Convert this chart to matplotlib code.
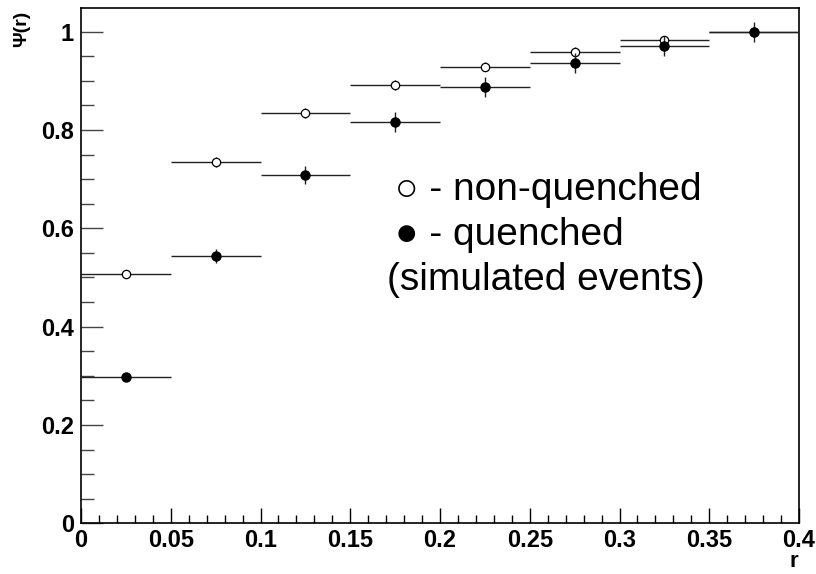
import numpy as np
import matplotlib
matplotlib.use("Agg")
from matplotlib import pyplot as plt
from matplotlib.ticker import MultipleLocator

# bin centres and half widths
r = [0.025, 0.075, 0.125, 0.175, 0.225, 0.275, 0.325, 0.375]
half_width = 0.025

# non-quenched (open circles)
psi_open = [0.507, 0.735, 0.834, 0.892, 0.929, 0.958, 0.982, 1.000]
err_open = [0.006, 0.010, 0.010, 0.010, 0.010, 0.010, 0.010, 0.010]

# quenched (filled circles)
psi_full = [0.298, 0.544, 0.708, 0.816, 0.887, 0.936, 0.971, 0.999]
err_full = [0.008, 0.014, 0.018, 0.020, 0.020, 0.020, 0.020, 0.020]

plt.rcParams["font.family"] = ["Liberation Sans", "DejaVu Sans"]

fig = plt.figure(figsize=(8.16, 5.74), dpi=100)
ax = fig.add_axes([81 / 816, 1 - 523.3 / 574, 718 / 816, 515.3 / 574])

ax.errorbar(r, psi_open, xerr=half_width, yerr=err_open, fmt="o",
            mfc="white", mec="black", mew=0.9, ms=6, ecolor="#222222",
            elinewidth=1.0, capsize=0, zorder=3)
ax.errorbar(r, psi_full, xerr=half_width, yerr=err_full, fmt="o",
            mfc="black", mec="black", ms=6.5, ecolor="#222222",
            elinewidth=1.0, capsize=0, zorder=4)

ax.set_xlim(0, 0.4)
ax.set_ylim(0, 1.048)

ax.xaxis.set_minor_locator(MultipleLocator(0.01))
ax.yaxis.set_minor_locator(MultipleLocator(0.05))

ax.set_xticks(np.arange(0, 0.41, 0.05))
ax.set_xticklabels(["0", "0.05", "0.1", "0.15", "0.2", "0.25", "0.3", "0.35", "0.4"])
ax.set_yticks(np.arange(0, 1.01, 0.2))
ax.set_yticklabels(["0", "0.2", "0.4", "0.6", "0.8", "1"])

ax.tick_params(axis="x", which="major", direction="in", length=11, width=1,
               pad=4, labelsize=17, top=False)
ax.tick_params(axis="x", which="minor", direction="in", length=6, width=1, top=False)
ax.tick_params(axis="y", which="major", direction="in", length=16, width=1,
               pad=5, labelsize=17, right=False, color="#444444")
ax.tick_params(axis="y", which="minor", direction="in", length=9, width=1,
               right=False, color="#444444")
for lab in ax.get_xticklabels() + ax.get_yticklabels():
    lab.set_fontweight("bold")

for sp in ax.spines.values():
    sp.set_linewidth(1.2)

fig.text(22 / 816, 1 - 11 / 574, "Ψ(r)", rotation=90, ha="center", va="top",
         fontsize=14, fontweight="bold")
fig.text(798 / 816, 1 - 567 / 574, "r", ha="right", va="baseline",
         fontsize=16, fontweight="bold")

ax.text(0.175, 0.678, "○ - non-quenched", fontsize=28, va="center")
ax.text(0.175, 0.587, "● - quenched", fontsize=28, va="center")
ax.text(0.1705, 0.495, "(simulated events)", fontsize=28, va="center")

fig.savefig("out.png", dpi=100)
